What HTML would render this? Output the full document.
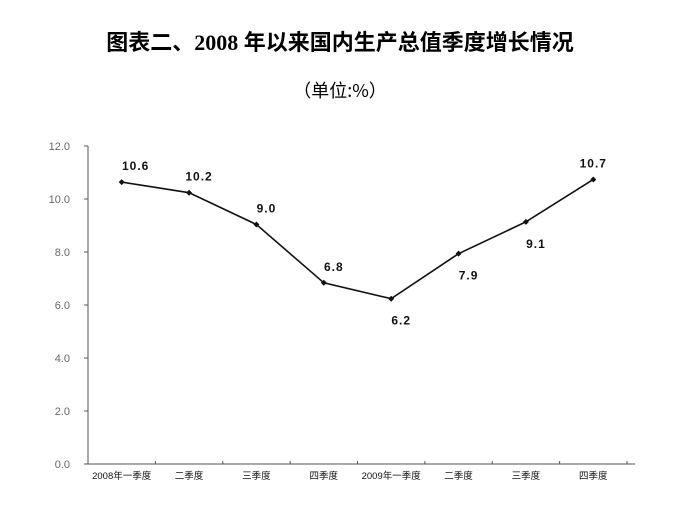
<!DOCTYPE html>
<html><head><meta charset="utf-8"><style>
body{margin:0;background:#fff;}
svg{display:block;font-family:"Liberation Sans","Noto Sans CJK SC",sans-serif;}
</style></head><body>
<svg width="680" height="513" viewBox="0 0 680 513">
<text x="340" y="50" text-anchor="middle" font-size="22" font-weight="bold" font-family="'Liberation Serif','Noto Sans CJK SC',sans-serif">图表二、2008 年以来国内生产总值季度增长情况</text>
<text x="340" y="97" text-anchor="middle" font-size="18" font-family="'Noto Sans CJK SC','Liberation Serif',sans-serif">（单位:%）</text>
<g id="axes"></g>
<g id="marks"></g>
</svg>
<script>
const categories=["2008年一季度","二季度","三季度","四季度","2009年一季度","二季度","三季度","四季度"];
const values=[10.6,10.2,9.0,6.8,6.2,7.9,9.1,10.7];
const valueLabels=["10.6","10.2","9.0","6.8","6.2","7.9","9.1","10.7"];
const yTicks=[0,2,4,6,8,10,12];
const yTickLabels=["0.0","2.0","4.0","6.0","8.0","10.0","12.0"];
const NS="http://www.w3.org/2000/svg";
const x0=88,x1=627,yb=464,yt=146,ymax=12;
const band=(x1-x0)/categories.length;
const xs=i=>x0+band*(i+0.5);
const ys=v=>yb-(v/ymax)*(yb-yt)-1;
function mk(tag,attrs,parent,txt){const e=document.createElementNS(NS,tag);for(const k in attrs)e.setAttribute(k,attrs[k]);if(txt!==undefined)e.textContent=txt;parent.appendChild(e);return e;}
const ax=document.getElementById('axes'),mg=document.getElementById('marks');
let e=mk('line',{x1:x0,y1:yt,x2:x0,y2:yb,stroke:'#555','stroke-width':1},ax);

e=mk('line',{x1:x0,y1:yb,x2:x1+8,y2:yb,stroke:'#555','stroke-width':1},ax);

yTicks.forEach((t,i)=>{
 const y=yb-(t/ymax)*(yb-yt);
 mk('line',{x1:x0-4,y1:y,x2:x0,y2:y,stroke:'#555'},ax);
 const l=mk('text',{x:70,y:y+4,'text-anchor':'end','font-size':11,fill:'#666'},ax,yTickLabels[i]);
 
});
for(let i=0;i<=categories.length;i++){mk('line',{x1:x0+band*i,y1:yb,x2:x0+band*i,y2:yb-3,stroke:'#555'},ax);}
categories.forEach((c,i)=>{
 const l=mk('text',{x:xs(i),y:479,'text-anchor':'middle','font-size':9.5,fill:'#111'},ax,c);
 
});
const pts=values.map((v,i)=>xs(i)+','+ys(v)).join(' ');
const line=mk('polyline',{points:pts,fill:'none',stroke:'#111','stroke-width':1.6},mg);

values.forEach((v,i)=>{
 const x=xs(i),y=ys(v);
 const p=mk('path',{d:`M${x-3},${y}L${x},${y-3}L${x+3},${y}L${x},${y+3}Z`,fill:'#111'},mg);
 
 const below=(i===4||i===5||i===6);
 const t=mk('text',{x:x+(i===0?14:(i===7?0:10)),y:below?y+26:y-12,'text-anchor':'middle','font-size':12,'font-weight':'bold','letter-spacing':'1',fill:'#111'},mg,valueLabels[i]);
 
});
</script>
</body></html>
